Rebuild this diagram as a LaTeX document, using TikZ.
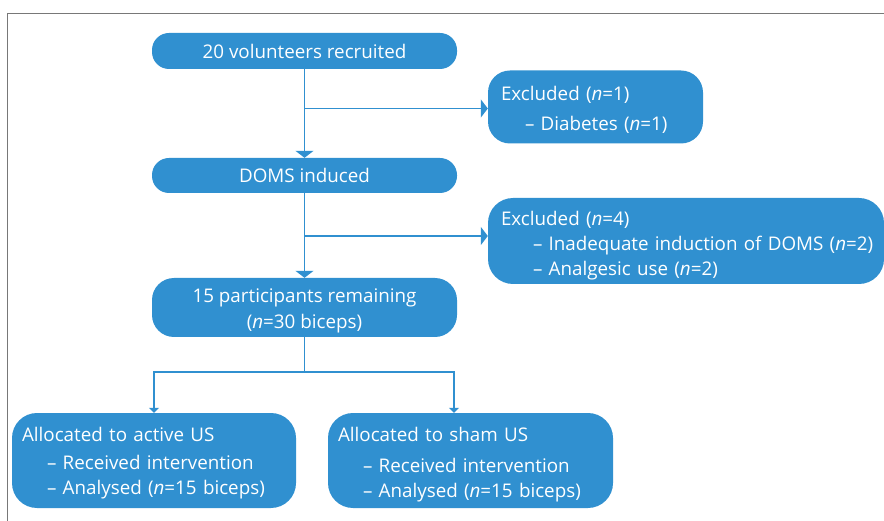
\documentclass[tikz,border=0pt]{standalone}
\usepackage{fontspec}
\setmainfont{Open Sans}
\usetikzlibrary{positioning,arrows.meta}
\definecolor{boxblue}{RGB}{48,144,208}
\definecolor{framegray}{RGB}{120,120,120}

\begin{document}
\begin{tikzpicture}[x=1pt,y=1pt,
	box/.style={fill=boxblue, text=white, font=\fontsize{18.8}{25}\selectfont, inner sep=0pt},
	pill/.style={box, minimum width=305pt, rounded corners=17pt},
	note/.style={box, align=left, inner xsep=13pt, rounded corners=22pt},
	conn/.style={draw=boxblue, line width=1.5pt},
	bigtip/.style={conn, -{Triangle[width=18pt,length=7pt]}},
	smalltip/.style={conn, -{Triangle[width=10pt,length=5pt]}}]
	\useasboundingbox (0,0) rectangle (884,-521);
	\draw[framegray, line width=1pt] (7,-521) -- (7,-14) -- (884,-14);
	%% main column
	\coordinate (o) at (0,0);
	\node[pill, minimum height=36pt, below right=51pt and 304.5pt of o, anchor=center] (rec) {20 volunteers recruited};
	\node[pill, minimum height=35pt, below right=175.5pt and 304.5pt of o, anchor=center] (doms) {DOMS induced};
	\node[pill, minimum height=59pt, rounded corners=22pt, align=center, below right=307.5pt and 304.5pt of o, anchor=center] (rem) {\rule{0pt}{21pt}15 participants remaining\\[1pt](\textit{n}=30 biceps)};
	%% excluded, 右
	\node[note, text width=189pt, minimum height=73pt, below right=107pt and 595.5pt of o, anchor=center] (ex1) {\rule{0pt}{20pt}Excluded (\textit{n}=1)\\[5pt]\hspace*{24pt}– Diabetes (\textit{n}=1)};
	\node[note, text width=370pt, minimum height=86pt, rounded corners=25pt, below right=241pt and 686pt of o, anchor=center] (ex2) {\rule{0pt}{23pt}Excluded (\textit{n}=4)\\\hspace*{32pt}\mbox{– Inadequate induction of DOMS (\textit{n}=2)}\\\hspace*{32pt}– Analgesic use (\textit{n}=2)};
	%% groups, 下
	\node[note, inner xsep=10pt, text width=264pt, minimum height=95pt, rounded corners=25pt, below right=460.5pt and 154pt of o, anchor=center] (act) {\rule{0pt}{20pt}Allocated to active US\\[3pt]\hspace*{25pt}– Received intervention\\\hspace*{25pt}– Analysed (\textit{n}=15 biceps)};
	\node[note, inner xsep=10pt, text width=265pt, minimum height=95pt, rounded corners=25pt, below right=460.5pt and 470.5pt of o, anchor=center] (sham) {\rule{0pt}{22pt}Allocated to sham US\\[6pt]\hspace*{25pt}– Received intervention\\\hspace*{25pt}– Analysed (\textit{n}=15 biceps)};
	\coordinate[below right=372pt and 304.5pt of o] (split);
	% 连线
	\draw[bigtip] (rec) -- (doms);
	\draw[bigtip] ([yshift=-1.5pt]rec |- ex1) -- ([yshift=-1.5pt]ex1.west);
	\draw[bigtip] (doms) -- (rem);
	\draw[bigtip] ([yshift=5pt]doms |- ex2.west) -- ([yshift=5pt]ex2.west);
	\draw[conn] (rem) -- (split);
	\draw[smalltip] (split) -| (act);
	\draw[smalltip] (split) -| ([xshift=-16.5pt]sham.north);
\end{tikzpicture}
\end{document}
